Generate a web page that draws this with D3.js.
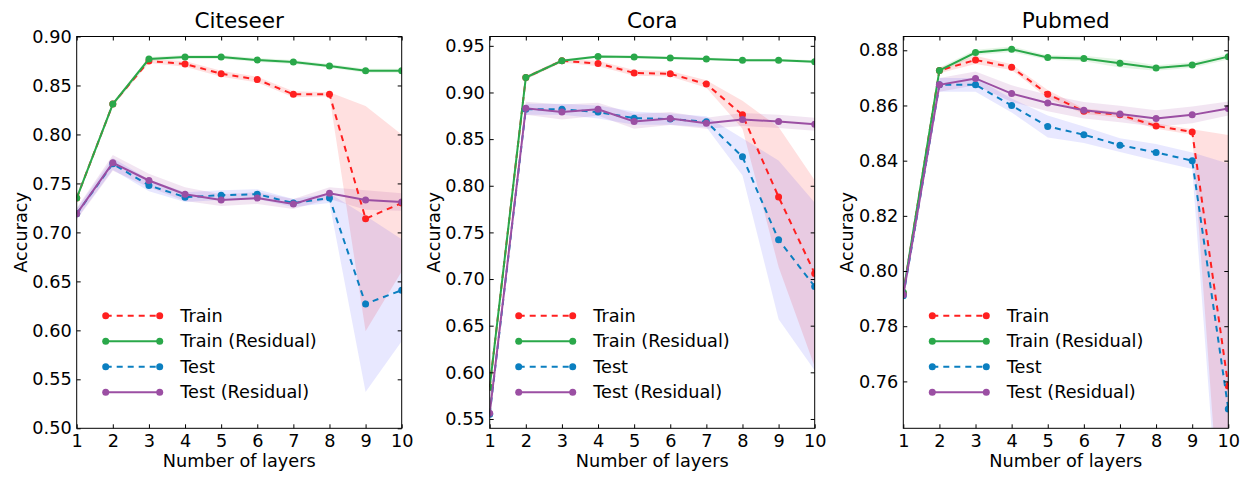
<!DOCTYPE html>
<html>
<head>
<meta charset="utf-8">
<script src="https://cdn.jsdelivr.net/npm/d3@7"></script>
<style>
  body { margin: 0; background: #fff; }
  text { font-family: "DejaVu Sans", sans-serif; fill: #000; }
</style>
</head>
<body>
<div id="chart"></div>
<script>
// values
var layers = [1, 2, 3, 4, 5, 6, 7, 8, 9, 10];
var seriesNames = ['Train', 'Train (Residual)', 'Test', 'Test (Residual)'];

var citeseerTrain       = [0.735, 0.831, 0.875, 0.872, 0.862, 0.856, 0.841, 0.841, 0.714, 0.730];
var citeseerTrainStd    = [0.002, 0.002, 0.002, 0.003, 0.003, 0.003, 0.003, 0.002, 0.115, 0.070];
var citeseerTrainRes    = [0.735, 0.831, 0.877, 0.879, 0.879, 0.876, 0.874, 0.870, 0.865, 0.865];
var citeseerTrainResStd = [0.002, 0.002, 0.002, 0.002, 0.002, 0.002, 0.002, 0.002, 0.002, 0.002];
var citeseerTest        = [0.719, 0.770, 0.748, 0.736, 0.738, 0.739, 0.730, 0.735, 0.627, 0.641];
var citeseerTestStd     = [0.005, 0.006, 0.006, 0.005, 0.005, 0.005, 0.004, 0.005, 0.090, 0.052];
var citeseerTestRes     = [0.719, 0.771, 0.753, 0.739, 0.733, 0.735, 0.729, 0.740, 0.733, 0.731];
var citeseerTestResStd  = [0.006, 0.008, 0.007, 0.007, 0.006, 0.006, 0.005, 0.006, 0.010, 0.009];

var coraTrain       = [0.584, 0.916, 0.934, 0.931, 0.921, 0.920, 0.909, 0.876, 0.788, 0.706];
var coraTrainStd    = [0.003, 0.002, 0.002, 0.003, 0.003, 0.003, 0.004, 0.015, 0.075, 0.100];
var coraTrainRes    = [0.584, 0.916, 0.934, 0.9385, 0.938, 0.937, 0.936, 0.9346, 0.9346, 0.933];
var coraTrainResStd = [0.0015, 0.0015, 0.0015, 0.0015, 0.0015, 0.0015, 0.0015, 0.0015, 0.0015, 0.0015];
var coraTest        = [0.555, 0.882, 0.882, 0.879, 0.8725, 0.8715, 0.8686, 0.831, 0.742, 0.692];
var coraTestStd     = [0.005, 0.006, 0.006, 0.007, 0.007, 0.006, 0.006, 0.020, 0.085, 0.090];
var coraTestRes     = [0.556, 0.883, 0.879, 0.882, 0.869, 0.872, 0.867, 0.871, 0.869, 0.866];
var coraTestResStd  = [0.005, 0.007, 0.008, 0.007, 0.008, 0.007, 0.006, 0.007, 0.007, 0.007];

var pubmedTrain       = [0.792, 0.8727, 0.8765, 0.8739, 0.8641, 0.8579, 0.8566, 0.8526, 0.8504, 0.7583];
var pubmedTrainStd    = [0.001, 0.001, 0.0015, 0.001, 0.0015, 0.001, 0.001, 0.001, 0.001, 0.091];
var pubmedTrainRes    = [0.7923, 0.8727, 0.8792, 0.8804, 0.8774, 0.877, 0.8753, 0.8736, 0.8747, 0.8777];
var pubmedTrainResStd = [0.001, 0.001, 0.001, 0.001, 0.0008, 0.001, 0.0015, 0.001, 0.001, 0.001];
var pubmedTest        = [0.791, 0.8675, 0.8675, 0.860, 0.8524, 0.8494, 0.8456, 0.843, 0.840, 0.750];
var pubmedTestStd     = [0.002, 0.0025, 0.0025, 0.0025, 0.004, 0.003, 0.0025, 0.003, 0.003, 0.089];
var pubmedTestRes     = [0.7914, 0.8675, 0.8698, 0.8643, 0.8609, 0.8583, 0.8569, 0.8553, 0.8566, 0.8589];
var pubmedTestResStd  = [0.002, 0.0025, 0.0025, 0.003, 0.003, 0.003, 0.003, 0.003, 0.003, 0.0025];

var citeseerTicks = [0.50, 0.55, 0.60, 0.65, 0.70, 0.75, 0.80, 0.85, 0.90];
var coraTicks     = [0.55, 0.60, 0.65, 0.70, 0.75, 0.80, 0.85, 0.90, 0.95];
var pubmedTicks   = [0.76, 0.78, 0.80, 0.82, 0.84, 0.86, 0.88];

var citeseerDomain = [0.50, 0.90];
var coraDomain     = [0.54, 0.96];
var pubmedDomain   = [0.743, 0.885];

// styles
var lineColors = ['#ff2020', '#2aa84a', '#0b7fc0', '#9b4fa3'];
var bandColors = ['#ff0000', '#00a000', '#0000ff', '#800080'];
var bandAlpha  = [0.12, 0.1, 0.09, 0.1];
var dashed     = [true, false, true, false];
var fontSize   = '17.7px';

var panels = [
  { title: 'Citeseer', left: 76.7, domain: citeseerDomain, ticks: citeseerTicks,
    mean: [citeseerTrain, citeseerTrainRes, citeseerTest, citeseerTestRes],
    std: [citeseerTrainStd, citeseerTrainResStd, citeseerTestStd, citeseerTestResStd] },
  { title: 'Cora', left: 489.7, domain: coraDomain, ticks: coraTicks,
    mean: [coraTrain, coraTrainRes, coraTest, coraTestRes],
    std: [coraTrainStd, coraTrainResStd, coraTestStd, coraTestResStd] },
  { title: 'Pubmed', left: 903.3, domain: pubmedDomain, ticks: pubmedTicks,
    mean: [pubmedTrain, pubmedTrainRes, pubmedTest, pubmedTestRes],
    std: [pubmedTrainStd, pubmedTrainResStd, pubmedTestStd, pubmedTestResStd] }
];

var plotTop = 36.5, width = 325, height = 391.8;

var svg = d3.select('#chart').append('svg')
    .attr('width', 1251)
    .attr('height', 484);

panels.forEach(function (p, k) {
    var g = svg.append('g')
        .attr('transform', 'translate(' + p.left + ',' + plotTop + ')');

    var x = d3.scaleLinear().domain([1, 10]).range([0, width]);
    var y = d3.scaleLinear().domain(p.domain).range([height, 0]);

    g.append('clipPath').attr('id', 'clip' + k)
        .append('rect').attr('width', width).attr('height', height);
    var plot = g.append('g').attr('clip-path', 'url(#clip' + k + ')');

    var area = d3.area()
        .x((d, i) => x(layers[i]))
        .y0(d => y(d[0] - d[1]))
        .y1(d => y(d[0] + d[1]));
    var line = d3.line()
        .x((d, i) => x(layers[i]))
        .y(d => y(d));

    // bands first
    p.mean.forEach(function (m, s) {
        plot.append('path')
            .datum(d3.zip(m, p.std[s]))
            .attr('d', area)
            .attr('fill', bandColors[s])
            .attr('fill-opacity', bandAlpha[s]);
    });

    p.mean.forEach(function (m, s) {
        plot.append('path')
            .datum(m)
            .attr('d', line)
            .attr('fill', 'none')
            .attr('stroke', lineColors[s])
            .attr('stroke-width', 2)
            .attr('stroke-dasharray', dashed[s] ? '6,5' : null);

        plot.selectAll('.dot' + s)
            .data(m)
            .enter()
            .append('circle')
            .attr('class', 'dot' + s)
            .attr('cx', (d, i) => x(layers[i]))
            .attr('cy', d => y(d))
            .attr('r', 3.5)
            .attr('fill', lineColors[s]);
    });

    // axes, ticks pointing inward on all sides
    var xAxis = d3.axisBottom(x).tickValues(layers).tickSizeInner(-4).tickSizeOuter(0)
        .tickPadding(6).tickFormat(d3.format('d'));
    var gx = g.append('g').attr('transform', 'translate(0,' + height + ')').call(xAxis);

    var yAxis = d3.axisLeft(y).tickValues(p.ticks).tickSizeInner(-4).tickSizeOuter(0)
        .tickPadding(5).tickFormat(d3.format('.2f'));
    var gy = g.append('g').call(yAxis);

    var gt = g.append('g').call(d3.axisTop(x).tickValues(layers).tickSizeInner(-4).tickSizeOuter(0).tickFormat(''));
    var gr = g.append('g').attr('transform', 'translate(' + width + ',0)')
        .call(d3.axisRight(y).tickValues(p.ticks).tickSizeInner(-4).tickSizeOuter(0).tickFormat(''));

    [gx, gy, gt, gr].forEach(function (a) {
        a.select('.domain').remove();
        a.selectAll('.tick line').attr('stroke', '#000');
        a.selectAll('.tick text')
            .style('font-family', '"DejaVu Sans", sans-serif')
            .style('font-size', fontSize)
            .attr('fill', '#000');
    });

    g.append('rect')
        .attr('width', width)
        .attr('height', height)
        .attr('fill', 'none')
        .attr('stroke', '#000')
        .attr('stroke-width', 1);

    g.append('text')
        .attr('x', width / 2)
        .attr('y', -8.2)
        .attr('text-anchor', 'middle')
        .style('font-size', '21.6px')
        .text(p.title);

    g.append('text')
        .attr('x', width / 2)
        .attr('y', height + 38.5)
        .attr('text-anchor', 'middle')
        .style('font-size', fontSize)
        .text('Number of layers');

    g.append('text')
        .attr('transform', 'translate(-50,' + (height / 2) + ') rotate(-90)')
        .attr('text-anchor', 'middle')
        .style('font-size', fontSize)
        .text('Accuracy');

    // legend
    var legend = g.append('g').attr('transform', 'translate(29,279.2)');
    seriesNames.forEach(function (name, s) {
        var row = legend.append('g').attr('transform', 'translate(0,' + (s * 25.5) + ')');
        row.append('line')
            .attr('x1', 0).attr('x2', 54)
            .attr('stroke', lineColors[s])
            .attr('stroke-width', 2)
            .attr('stroke-dasharray', dashed[s] ? '6,5' : null);
        row.selectAll('circle')
            .data([0, 54])
            .enter()
            .append('circle')
            .attr('cx', d => d)
            .attr('r', 3.5)
            .attr('fill', lineColors[s]);
        row.append('text')
            .attr('x', 74.5)
            .attr('dy', '0.35em')
            .style('font-size', fontSize)
            .text(name);
    });
});
</script>
</body>
</html>
